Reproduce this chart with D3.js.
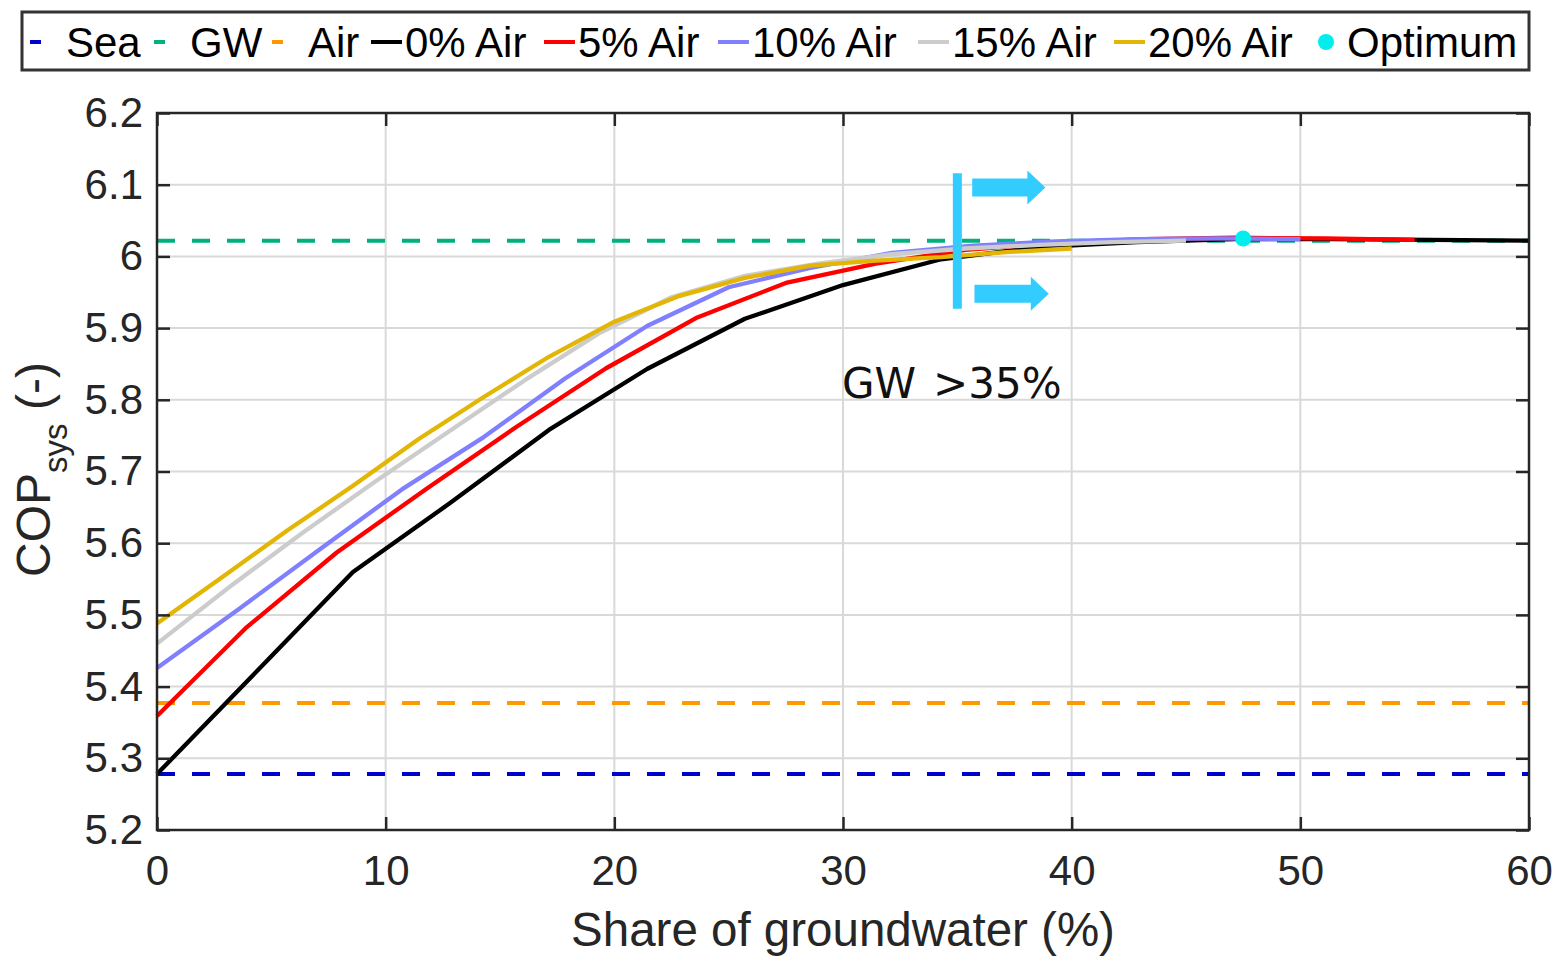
<!DOCTYPE html>
<html><head><meta charset="utf-8">
<script src="https://cdn.jsdelivr.net/npm/d3@7"></script>
<style>body{margin:0;background:#fff}svg{display:block}</style>
</head><body>
<svg id="c" width="1556" height="956"></svg>
<script>
// ---------------- DATA ----------------
const xTicks = [0, 10, 20, 30, 40, 50, 60];
const yTicks = [5.2, 5.3, 5.4, 5.5, 5.6, 5.7, 5.8, 5.9, 6.0, 6.1, 6.2];
const yTickLabels = ["5.2","5.3","5.4","5.5","5.6","5.7","5.8","5.9","6","6.1","6.2"];

const seaCOP = 5.278;
const gwCOP = 6.022;
const airCOP = 5.377;

const air0X  = [0, 4.29, 8.57, 12.86, 17.14, 21.43, 25.71, 30, 34.29, 38.57, 42.86, 47.14, 51.43, 55.71, 60];
const air0Y  = [5.278, 5.419, 5.560, 5.657, 5.758, 5.843, 5.913, 5.960, 5.996, 6.013, 6.020, 6.024, 6.024, 6.023, 6.022];
const air5X  = [0, 3.93, 7.86, 11.79, 15.71, 19.64, 23.57, 27.5, 31.43, 35.36, 39.29, 43.21, 47.14, 51.07, 55];
const air5Y  = [5.359, 5.483, 5.587, 5.676, 5.762, 5.844, 5.914, 5.963, 5.990, 6.009, 6.019, 6.024, 6.026, 6.025, 6.023];
const air10X = [0, 3.57, 7.14, 10.71, 14.29, 17.86, 21.43, 25, 28.57, 32.14, 35.71, 39.29, 42.86, 46.43, 50];
const air10Y = [5.426, 5.508, 5.592, 5.675, 5.748, 5.830, 5.903, 5.957, 5.984, 6.005, 6.015, 6.021, 6.024, 6.025, 6.024];
const air15X = [0, 3.21, 6.43, 9.64, 12.86, 16.07, 19.29, 22.5, 25.71, 28.93, 32.14, 35.36, 38.57, 41.79, 45];
const air15Y = [5.460, 5.540, 5.616, 5.688, 5.758, 5.827, 5.892, 5.943, 5.973, 5.990, 6.003, 6.011, 6.016, 6.020, 6.022];
const air20X = [0, 2.86, 5.71, 8.57, 11.43, 14.29, 17.14, 20, 22.86, 25.71, 28.57, 31.43, 34.29, 37.14, 40];
const air20Y = [5.488, 5.553, 5.618, 5.680, 5.745, 5.804, 5.860, 5.909, 5.945, 5.970, 5.987, 5.994, 5.999, 6.006, 6.011];

const optimumX = 47.5;
const optimumY = 6.025;

const legendLabels = ["Sea", "GW", "Air", "0% Air", "5% Air", "10% Air", "15% Air", "20% Air", "Optimum"];

// annotation (data units)
const thresholdX = 35;
const thresholdYRange = [5.927, 6.116];
const arrowUpper = {x0: 35.65, x1: 38.85, y: 6.096};
const arrowLower = {x0: 35.75, x1: 39.0, y: 5.948};
const annotationParts = ["GW", ">35%"];

// ---------------- STYLE / LAYOUT ----------------
const colors = {sea: "#0000cc", gw: "#00b07e", air: "#ff9900",
  a0: "#000000", a5: "#ff0000", a10: "#8080ff", a15: "#cccccc", a20: "#e3b505",
  opt: "#00eeee", ann: "#33ccff"};
const plot = {left: 157, right: 1529, top: 113, bottom: 830};
const legendTextX = [66, 190, 308, 405, 578, 752, 952, 1148, 1347];
const FONT = "'Liberation Sans', Arial, sans-serif";

const svg = d3.select("#c");
const x = d3.scaleLinear().domain([0, 60]).range([plot.left, plot.right]);
const y = d3.scaleLinear().domain([5.2, 6.2]).range([plot.bottom, plot.top]);

// gridlines
const grid = svg.append("g").attr("stroke", "#d9d9d9").attr("stroke-width", 2);
grid.selectAll("line.gx").data(xTicks.slice(1, -1)).join("line")
  .attr("x1", d => x(d)).attr("x2", d => x(d)).attr("y1", plot.top).attr("y2", plot.bottom);
grid.selectAll("line.gy").data(yTicks.slice(1, -1)).join("line")
  .attr("x1", plot.left).attr("x2", plot.right).attr("y1", d => y(d)).attr("y2", d => y(d));

// dashed reference lines
const refs = [{v: seaCOP, c: colors.sea}, {v: gwCOP, c: colors.gw}, {v: airCOP, c: colors.air}];
svg.append("g").selectAll("line").data(refs).join("line")
  .attr("x1", plot.left).attr("x2", plot.right)
  .attr("y1", d => y(d.v)).attr("y2", d => y(d.v))
  .attr("stroke", d => d.c).attr("stroke-width", 4).attr("stroke-dasharray", "18,17");

// curves
const series = [
  {xs: air0X, ys: air0Y, c: colors.a0},
  {xs: air5X, ys: air5Y, c: colors.a5},
  {xs: air10X, ys: air10Y, c: colors.a10},
  {xs: air15X, ys: air15Y, c: colors.a15},
  {xs: air20X, ys: air20Y, c: colors.a20}
];
const line = d3.line().x(d => x(d[0])).y(d => y(d[1]));
svg.append("g").selectAll("path").data(series).join("path")
  .attr("d", s => line(s.xs.map((v, i) => [v, s.ys[i]])))
  .attr("fill", "none").attr("stroke", s => s.c).attr("stroke-width", 4.3)
  .attr("stroke-linejoin", "round");

// optimum
svg.append("circle").attr("cx", x(optimumX)).attr("cy", y(optimumY)).attr("r", 8).attr("fill", colors.opt);

// annotation
svg.append("line").attr("x1", x(thresholdX)).attr("x2", x(thresholdX))
  .attr("y1", y(thresholdYRange[0])).attr("y2", y(thresholdYRange[1]))
  .attr("stroke", colors.ann).attr("stroke-width", 9);
function arrow(a) {
  const x0 = x(a.x0), x1 = x(a.x1), yc = y(a.y), hl = 18, sh = 9, hh = 17;
  return `M${x0},${yc - sh}L${x1 - hl},${yc - sh}L${x1 - hl},${yc - hh}L${x1},${yc}L${x1 - hl},${yc + hh}L${x1 - hl},${yc + sh}L${x0},${yc + sh}Z`;
}
svg.append("g").selectAll("path").data([arrowUpper, arrowLower]).join("path")
  .attr("d", arrow).attr("fill", colors.ann);
const ann = svg.append("text").attr("x", 842).attr("y", 398)
  .attr("font-family", "'DejaVu Sans', sans-serif").attr("font-size", 42).attr("fill", "#111");
ann.append("tspan").text(annotationParts[0]);
ann.append("tspan").attr("dx", 17).text(annotationParts[1]);

// axes box
const axc = "#262626";
svg.append("rect").attr("x", plot.left).attr("y", plot.top)
  .attr("width", plot.right - plot.left).attr("height", plot.bottom - plot.top)
  .attr("fill", "none").attr("stroke", axc).attr("stroke-width", 2.5);

// axes with inward ticks
const tl = 13;
const axB = svg.append("g").attr("transform", `translate(0,${plot.bottom})`)
  .call(d3.axisBottom(x).tickValues(xTicks).tickSize(-tl).tickPadding(25).tickFormat(d3.format("d")));
const axT = svg.append("g").attr("transform", `translate(0,${plot.top})`)
  .call(d3.axisTop(x).tickValues(xTicks).tickSize(-tl).tickFormat(""));
const axL = svg.append("g").attr("transform", `translate(${plot.left},0)`)
  .call(d3.axisLeft(y).tickValues(yTicks).tickSize(-tl).tickPadding(14).tickFormat((d, i) => yTickLabels[i]));
const axR = svg.append("g").attr("transform", `translate(${plot.right},0)`)
  .call(d3.axisRight(y).tickValues(yTicks).tickSize(-tl).tickFormat(""));
[axB, axT, axL, axR].forEach(g => {
  g.select(".domain").remove();
  g.selectAll(".tick line").attr("stroke", axc).attr("stroke-width", 2.5);
  g.selectAll("text").attr("font-family", FONT).attr("font-size", 42).attr("fill", "#262626");
});
axB.selectAll("text").attr("dy", "0.71em");

// axis labels
svg.append("text").attr("x", (plot.left + plot.right) / 2).attr("y", 946)
  .attr("text-anchor", "middle").attr("font-family", FONT).attr("font-size", 47.5).attr("fill", "#262626")
  .text("Share of groundwater (%)");
const yl = svg.append("text").attr("transform", `translate(50,${(plot.top + plot.bottom) / 2 - 2}) rotate(-90)`)
  .attr("text-anchor", "middle").attr("font-family", FONT).attr("font-size", 48).attr("fill", "#262626");
yl.append("tspan").text("COP");
yl.append("tspan").attr("font-size", 33).attr("dy", 17).text("sys");
yl.append("tspan").attr("dy", -17).text(" (-)");

// legend
svg.append("rect").attr("x", 22).attr("y", 12).attr("width", 1507).attr("height", 58)
  .attr("fill", "#fff").attr("stroke", "#333").attr("stroke-width", 3);
const legendItems = [
  {type: "dash", c: colors.sea}, {type: "dash", c: colors.gw}, {type: "dash", c: colors.air},
  {type: "line", c: colors.a0}, {type: "line", c: colors.a5}, {type: "line", c: colors.a10},
  {type: "line", c: colors.a15}, {type: "line", c: colors.a20}, {type: "dot", c: colors.opt}
];
const lg = svg.append("g");
legendItems.forEach((it, i) => {
  const tx = legendTextX[i], ly = 42;
  if (it.type === "dash") lg.append("line").attr("x1", tx - 36).attr("x2", tx - 25).attr("y1", ly).attr("y2", ly).attr("stroke", it.c).attr("stroke-width", 4);
  if (it.type === "line") lg.append("line").attr("x1", tx - 34).attr("x2", tx - 3).attr("y1", ly).attr("y2", ly).attr("stroke", it.c).attr("stroke-width", 4);
  if (it.type === "dot") lg.append("circle").attr("cx", tx - 21).attr("cy", ly).attr("r", 8).attr("fill", it.c);
  lg.append("text").attr("x", tx).attr("y", 57).attr("font-family", FONT).attr("font-size", 42).attr("fill", "#000").text(legendLabels[i]);
});
</script>
</body></html>
